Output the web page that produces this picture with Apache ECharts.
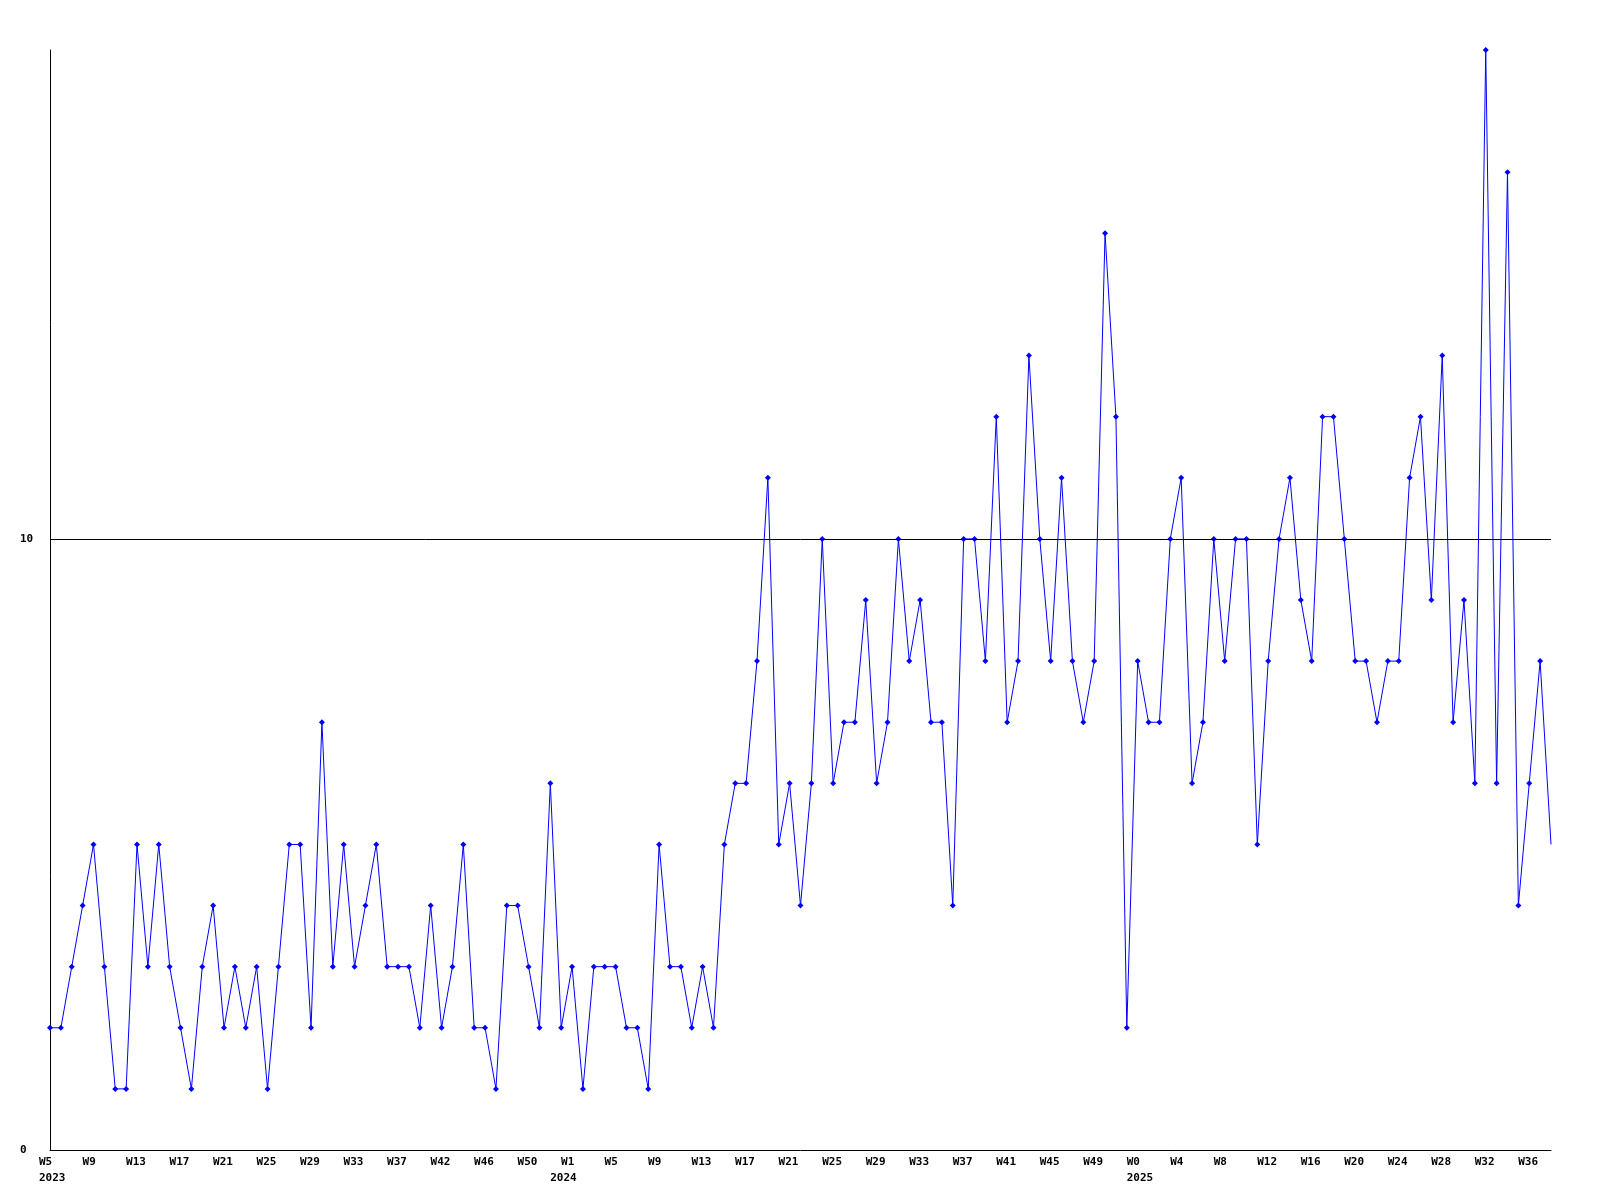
<!DOCTYPE html>
<html>
<head>
<meta charset="utf-8">
<script src="https://cdn.jsdelivr.net/npm/echarts@6/dist/echarts.min.js"></script>
<style>
html,body{margin:0;padding:0;background:#fff;}
#chart{width:1600px;height:1200px;}
</style>
</head>
<body>
<div id="chart"></div>
<script>
// Weekly values, one per week starting 2023 W5
var values = [
  2,2,3,4,5,3,1,1,5,3,5,3,2,1,3,4,2,3,2,3,1,3,5,5,2,7,
  3,5,3,4,5,3,3,3,2,4,2,3,5,2,2,1,4,4,3,2,6,2,3,1,3,3,
  3,2,2,1,5,3,3,2,3,2,5,6,6,8,11,5,6,4,6,10,6,7,7,9,6,7,
  10,8,9,7,7,4,10,10,8,12,7,8,13,10,8,11,8,7,8,15,12,2,8,7,7,10,
  11,6,7,10,8,10,10,5,8,10,11,9,8,12,12,10,8,8,7,8,8,11,12,9,13,
  7,9,6,18,6,16,4,6,8,5
];
// Week tick labels, one every 4 weeks (indices 0,4,8,...)
var weekLabels = [
  'W5','W9','W13','W17','W21','W25','W29','W33','W37','W42','W46','W50',
  'W1','W5','W9','W13','W17','W21','W25','W29','W33','W37','W41','W45','W49',
  'W0','W4','W8','W12','W16','W20','W24','W28','W32','W36'
];
var weekStep = 4;
// Year labels and their week index
var yearLabels = ['2023','2024','2025'];
var yearPositions = [0, 47, 100];
// Y axis labelled ticks
var yTicks = [0, 10];
var yMax = 18;
var refLine = 10;

var weekTickValues = weekLabels.map(function(_, k){ return k * weekStep; });
var lastIndex = values.length - 1;
var seriesData = values.map(function(v, i){
  return i === lastIndex ? {value:[i, v], symbol:'none'} : [i, v];
});

var FONT = 'DejaVu Sans Mono';
var richA = {width:22, align:'left', fontFamily:FONT, fontWeight:'bold', fontSize:11, color:'#000', lineHeight:11};

var chart = echarts.init(document.getElementById('chart'), null, {renderer:'canvas'});
chart.setOption({
  animation:false,
  backgroundColor:'#fff',
  grid:{left:50, right:49, top:50, bottom:50, containLabel:false},
  xAxis:[{
    type:'value', min:0, max:lastIndex,
    axisLine:{show:true, lineStyle:{color:'#000', width:1}},
    axisTick:{show:false},
    splitLine:{show:false},
    axisLabel:{
      customValues: weekTickValues,
      align:'center', margin:7,
      formatter:function(v){
        var k = Math.round(v / weekStep);
        return '{a|' + (weekLabels[k] || '') + '}';
      },
      rich:{a:richA}
    }
  },{
    type:'value', min:0, max:lastIndex, position:'bottom',
    axisLine:{show:false}, axisTick:{show:false}, splitLine:{show:false},
    axisLabel:{
      customValues: yearPositions,
      align:'center', margin:23,
      formatter:function(v){
        var k = yearPositions.indexOf(Math.round(v));
        return '{a|' + (k >= 0 ? yearLabels[k] : '') + '}';
      },
      rich:{a:richA}
    }
  }],
  yAxis:{
    type:'value', min:0, max:yMax,
    axisLine:{show:true, lineStyle:{color:'#000', width:1}},
    axisTick:{show:false},
    splitLine:{show:false},
    axisLabel:{
      customValues: yTicks,
      align:'left', margin:30,
      fontFamily:FONT, fontWeight:'bold', fontSize:11, color:'#000'
    }
  },
  series:[{
    type:'line',
    xAxisIndex:0,
    data: seriesData,
    symbol:'diamond', symbolSize:6,
    itemStyle:{color:'#0000ff'},
    lineStyle:{color:'#0000ff', width:1},
    markLine:{
      silent:true, symbol:'none',
      label:{show:false},
      lineStyle:{color:'#000', width:1, type:'solid'},
      data:[{yAxis: refLine}]
    }
  }]
});
</script>
</body>
</html>
